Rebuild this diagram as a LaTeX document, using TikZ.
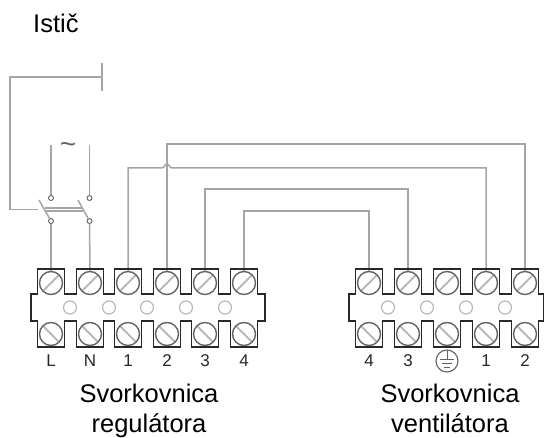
\documentclass[tikz,border=0pt]{standalone}
\usepackage{fontspec}
\setmainfont{Liberation Sans}
\usetikzlibrary{calc}
\definecolor{wiregray}{RGB}{165,165,165}
\definecolor{screwgray}{RGB}{100,100,100}
\definecolor{slotgray}{RGB}{185,185,185}
\definecolor{blockblack}{RGB}{40,40,40}

\begin{document}
\begin{tikzpicture}[x=1pt, y=-1pt,
	Wire/.style={draw=wiregray, line width=1.5pt},
	Block/.style={draw=blockblack, line width=1.8pt, line join=miter},
	Screw/.style={draw=screwgray, circle, line width=1.4pt, minimum size=23pt, inner sep=0pt},
	ScrewTop/.style={Screw, path picture={\draw[slotgray, line width=1.8pt] (path picture bounding box.south west) -- (path picture bounding box.north east);}},
	ScrewBot/.style={Screw, path picture={\draw[slotgray, line width=1.8pt] (path picture bounding box.north west) -- (path picture bounding box.south east);}},
	Hole/.style={draw=slotgray, circle, line width=1.2pt, minimum size=13pt, inner sep=0pt},
	Contact/.style={draw=screwgray, circle, fill=white, line width=0.9pt, minimum size=5pt, inner sep=0pt},
	Small/.style={text=black!85, font=\fontsize{17}{19}\selectfont},
	Big/.style={align=center, inner sep=0pt, font=\fontsize{25.5}{31}\selectfont}]
	\useasboundingbox (0,0) rectangle (544,438);
	\coordinate (hopL) at (162,168);
	\coordinate (hopR) at (172,168);
	% terminal screws
	\foreach \i/\x in {1/51,2/90,3/128,4/167,5/205,6/244} {
		\node[ScrewTop] (a\i) at (\x,283) {};
		\node[ScrewBot] (c\i) at (\x,334) {};
	}
	\foreach \i/\x in {1/369,2/408,3/447,4/486,5/525} {
		\node[ScrewTop] (b\i) at (\x,283) {};
		\node[ScrewBot] (d\i) at (\x,334) {};
	}
	\foreach \i/\x in {1/70,2/109,3/147,4/186,5/225} \node[Hole] (h\i) at (\x,307.5) {};
	\foreach \i/\x in {1/388,2/427,3/466,4/505} \node[Hole] (k\i) at (\x,307.5) {};
	% wires between the two blocks
	\draw[Wire] (a3.north) |- (hopL) .. controls (164,168) and (165,164) .. (167,164) .. controls (169,164) and (170,168) .. (hopR) -| (b4.north);
	\draw[Wire] (a4.north) -- ++(0,-127) -| (b5.north);
	\draw[Wire] (a5.north) -- ++(0,-82) -| (b2.north);
	\draw[Wire] (a6.north) -- ++(0,-60) -| (b1.north);
	% breaker
	\coordinate (supL) at (51,145);
	\coordinate (supN) at (89.5,145);
	\coordinate (barT) at (102,63);
	\coordinate (barB) at (102,91);
	\coordinate (barM) at (102,77);
	\coordinate (linkE) at (38,209.5);
	\node[Contact] (o1) at (51,198) {};
	\node[Contact] (o2) at (89.5,198) {};
	\node[Contact] (u1) at (51,221) {};
	\node[Contact] (u2) at (89.5,221) {};
	\draw[Wire] (supL) -- (o1);
	\draw[Wire] (supN) -- (o2);
	\draw[Wire] (u1) -- (a1.north);
	\draw[Wire] (u2) -- (a2.north);
	\draw[Wire] (u1) -- (39,200);
	\draw[Wire] (u2) -- (78,200);
	\draw[Wire, line width=1.2pt] (45,208) -- (83,208);
	\draw[Wire, line width=1.2pt] (45,211) -- (83,211);
	\draw[Wire] (linkE) -| (10,77) -- (barM);
	\draw[Wire] (barT) -- (barB);
	\node[text=screwgray, font=\fontsize{28}{28}\selectfont] (tilde) at (68,148) {\textasciitilde};
	% block outlines
	\draw[Block] (31,321) -- (31,294)
		\foreach \x in {51,90,128,167,205,244} { -- (\x-13.5,294) -- (\x-13.5,269) -- (\x+13.5,269) -- (\x+13.5,294) }
		-- (265,294) -- (265,321)
		\foreach \x in {244,205,167,128,90,51} { -- (\x+13.5,321) -- (\x+13.5,347) -- (\x-13.5,347) -- (\x-13.5,321) }
		-- cycle;
	\draw[Block] (349,321) -- (349,294)
		\foreach \x in {369,408,447,486,525} { -- (\x-13.5,294) -- (\x-13.5,269) -- (\x+13.5,269) -- (\x+13.5,294) }
		-- (544,294) -- (544,321)
		\foreach \x in {525,486,447,408,369} { -- (\x+13.5,321) -- (\x+13.5,347) -- (\x-13.5,347) -- (\x-13.5,321) }
		-- cycle;
	% terminal labels
	\foreach \i/\x/\t in {1/51/L,2/90/N,3/128/1,4/167/2,5/205/3,6/244/4} \node[Small] (la\i) at (\x,361) {\t};
	\foreach \i/\x/\t in {1/369/4,2/408/3,4/486/1,5/525/2} \node[Small] (lb\i) at (\x,361) {\t};
	\node[draw=screwgray, circle, line width=1.1pt, minimum size=22pt, inner sep=0pt, path picture={
		\draw[screwgray, line width=1pt] (0,-11) -- (0,-1) (-7,-1) -- (7,-1) (-5,3) -- (5,3) (-3,7) -- (3,7);
	}] (lb3) at (447,361) {};
	% captions
	\node[Big, anchor=base west] (title) at (33,33) {Istič};
	\node[Big, anchor=base] (capA) at (149,433) {Svorkovnica\\regulátora};
	\node[Big, anchor=base] (capB) at (450,433) {Svorkovnica\\ventilátora};
\end{tikzpicture}
\end{document}
